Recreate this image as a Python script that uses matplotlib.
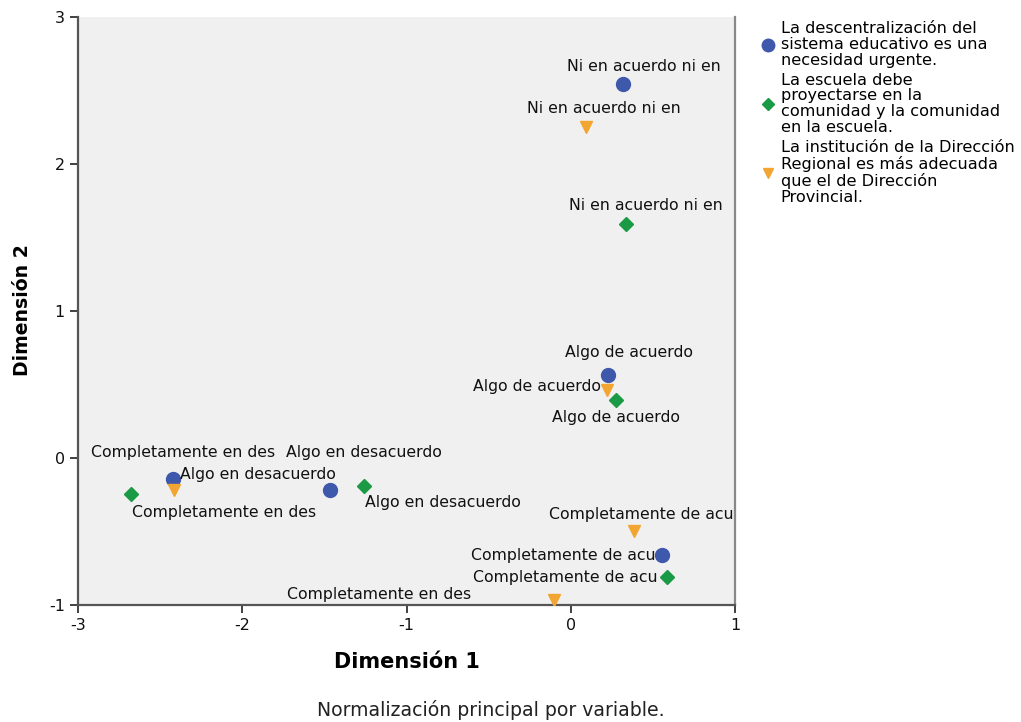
import matplotlib
matplotlib.use("Agg")
import matplotlib.pyplot as plt
from matplotlib.lines import Line2D

plt.rcParams['font.family'] = ['DejaVu Sans']
plt.rcParams['axes.unicode_minus'] = False

series_names = [
    "La descentralización del\nsistema educativo es una\nnecesidad urgente.",
    "La escuela debe\nproyectarse en la\ncomunidad y la comunidad\nen la escuela.",
    "La institución de la Dirección\nRegional es más adecuada\nque el de Dirección\nProvincial.",
]

blue_labels = ["Ni en acuerdo ni en", "Algo de acuerdo", "Completamente en des",
               "Algo en desacuerdo", "Completamente de acu"]
blue_x = [0.317, 0.226, -2.42, -1.463, 0.555]
blue_y = [2.544, 0.565, -0.143, -0.218, -0.660]

green_labels = ["Ni en acuerdo ni en", "Algo de acuerdo", "Completamente en des",
                "Algo en desacuerdo", "Completamente de acu"]
green_x = [0.335, 0.274, -2.677, -1.256, 0.585]
green_y = [1.592, 0.395, -0.245, -0.190, -0.810]

orange_labels = ["Ni en acuerdo ni en", "Algo de acuerdo", "Algo en desacuerdo",
                 "Completamente en des", "Completamente de acu"]
orange_x = [0.091, 0.220, -2.415, -0.104, 0.384]
orange_y = [2.252, 0.463, -0.218, -0.966, -0.497]

# label offsets in pixels (dx, dy up positive), horizontal alignment
blue_off = [(21, 18, 'center'), (21, 22, 'center'), (10, 27, 'center'),
            (33, 38, 'center'), (-6, 0, 'right')]
green_off = [(20, 18, 'center'), (0, -18, 'center'), (1, -18, 'left'),
             (1, -17, 'left'), (-9, 0, 'right')]
orange_off = [(18, 18, 'center'), (-6, 3, 'right'), (6, 16, 'left'),
              (-83, 6, 'right'), (7, 17, 'center')]

fig = plt.figure(figsize=(10.21, 7.22), dpi=100)
ax = fig.add_axes([78/1021, 1-605/722, (735-78)/1021, (605-17)/722])
ax.set_facecolor('#F0F0F0')

blue_c = '#3E58AC'
green_c = '#1B9A45'
orange_c = '#F2A531'

ax.plot(blue_x, blue_y, 'o', color=blue_c, markersize=10, linestyle='none', zorder=3)
ax.plot(green_x, green_y, 'D', color=green_c, markersize=7.5, linestyle='none', zorder=3)
ax.plot(orange_x, orange_y, 'v', color=orange_c, markersize=8, linestyle='none', zorder=3)

px = 72 / 100.0
for labels, xs, ys, offs in [(blue_labels, blue_x, blue_y, blue_off),
                             (green_labels, green_x, green_y, green_off),
                             (orange_labels, orange_x, orange_y, orange_off)]:
    for lab, x, y, (dx, dy, ha) in zip(labels, xs, ys, offs):
        ax.annotate(lab, (x, y), xytext=(dx * px, dy * px), textcoords='offset points',
                    ha=ha, va='center', fontsize=11.3, color='#111111', zorder=4)

ax.set_xlim(-3, 1)
ax.set_ylim(-1, 3)
ax.set_xticks([-3, -2, -1, 0, 1])
ax.set_yticks([-1, 0, 1, 2, 3])
ax.tick_params(direction='out', length=6, width=1.3, colors='#333333', labelsize=11.5,
               labelcolor='#111111')
for s in ['left', 'bottom']:
    ax.spines[s].set_color('#555555')
    ax.spines[s].set_linewidth(1.6)
ax.spines['right'].set_color('#888888')
ax.spines['right'].set_linewidth(1.6)
ax.spines['top'].set_visible(False)

ax.set_xlabel('Dimensión 1', fontsize=15, fontweight='bold', va='center')
ax.set_ylabel('Dimensión 2', fontsize=13.6, fontweight='bold', va='center')
ax.xaxis.set_label_coords((407-78)/657, (605-662)/588)
ax.yaxis.set_label_coords((22-78)/657, (605-310)/588)

fig.text(491/1021, 1-710/722, 'Normalización principal por variable.',
         ha='center', va='center', fontsize=13.6, color='#222222')

handles = [
    Line2D([], [], marker='o', color=blue_c, linestyle='none', markersize=9),
    Line2D([], [], marker='D', color=green_c, linestyle='none', markersize=6.5),
    Line2D([], [], marker='v', color=orange_c, linestyle='none', markersize=7),
]
leg = fig.legend(handles, series_names, loc='upper left', bbox_to_anchor=(762/1021, 1-21/722),
                 frameon=False, fontsize=11.6, handlelength=0.8, handletextpad=0.35,
                 labelspacing=0.3, borderaxespad=0, borderpad=0)
for t in leg.get_texts():
    t.set_linespacing(1.07)

fig.savefig('out.png', dpi=100)
